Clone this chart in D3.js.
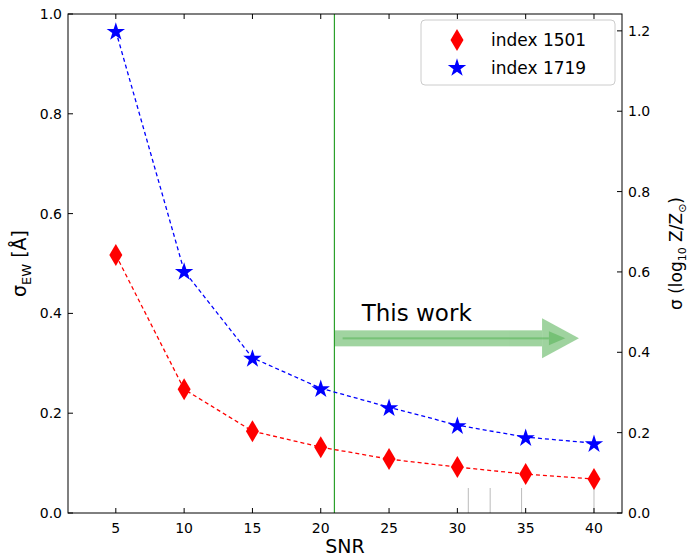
<!DOCTYPE html><html><head><script src="https://cdn.jsdelivr.net/npm/d3@7"></script>
<style>body{margin:0;background:#fff}text{font-family:"DejaVu Sans",sans-serif}</style></head><body>
<svg id="c" width="697" height="557"></svg>
<script>
const snr=[5,10,15,20,25,30,35,40];
const idx1501=[0.517,0.248,0.164,0.132,0.108,0.092,0.078,0.068];
const idx1719=[0.966,0.485,0.311,0.250,0.212,0.176,0.152,0.140];
const xTicks=[5,10,15,20,25,30,35,40];
const yTicks=[0,0.2,0.4,0.6,0.8,1.0];
const y2Ticks=[0,0.2,0.4,0.6,0.8,1.0,1.2];
const greyMarks=[30.8,32.4,34.7,40];
const svg=d3.select("#c");
const L=68,R=622,T=14,B=513;
const x=d3.scaleLinear().domain([1.5,42.05]).range([L,R]);
const y=d3.scaleLinear().domain([0,1]).range([B,T]);
const y2=d3.scaleLinear().domain([0,1.242]).range([B,T]);
svg.selectAll(".gm").data(greyMarks).join("line").attr("x1",d=>x(d)).attr("x2",d=>x(d)).attr("y1",B-25).attr("y2",B).attr("stroke","#bbb").attr("stroke-width",1);
svg.append("line").attr("x1",x(21)).attr("x2",x(21)).attr("y1",T).attr("y2",B).attr("stroke","#2ca02c").attr("stroke-width",1.2);
const ay=y(0.35);
const ag=svg.append("g").attr("opacity",0.45).attr("fill","#2ca02c");
ag.append("rect").attr("x",x(21)).attr("y",ay-8).attr("width",x(36.2)-x(21)).attr("height",16);
ag.append("path").attr("d",`M${x(36.2)},${ay-20}L${x(38.9)},${ay}L${x(36.2)},${ay+20}Z`);
const ag2=svg.append("g").attr("opacity",0.35).attr("fill","#2ca02c");
ag2.append("rect").attr("x",x(21.6)).attr("y",ay-1).attr("width",x(36.7)-x(21.6)).attr("height",2);
ag2.append("path").attr("d",`M${x(36.7)},${ay-7}L${x(37.9)},${ay}L${x(36.7)},${ay+7}Z`);
svg.append("text").attr("x",x(23)).attr("y",y(0.385)).attr("font-size",23).text("This work");
const line=d3.line().x((d,i)=>x(snr[i])).y(d=>y(d));
svg.append("path").attr("d",line(idx1501)).attr("fill","none").attr("stroke","red").attr("stroke-width",1.3).attr("stroke-dasharray","4,3");
svg.append("path").attr("d",line(idx1719)).attr("fill","none").attr("stroke","blue").attr("stroke-width",1.3).attr("stroke-dasharray","4,3");
const diamond="M0,-11L6.5,0L0,11L-6.5,0Z";
const star=d3.symbol().type(d3.symbolStar).size(105)();
svg.selectAll(".r").data(idx1501).join("path").attr("d",diamond).attr("transform",(d,i)=>`translate(${x(snr[i])},${y(d)})`).attr("fill","red");
svg.selectAll(".b").data(idx1719).join("path").attr("d",star).attr("transform",(d,i)=>`translate(${x(snr[i])},${y(d)+1})`).attr("fill","blue");
svg.append("rect").attr("x",L).attr("y",T).attr("width",R-L).attr("height",B-T).attr("fill","none").attr("stroke","#000").attr("stroke-width",1);
const g=svg.append("g");
xTicks.forEach(t=>{g.append("line").attr("x1",x(t)).attr("x2",x(t)).attr("y1",B).attr("y2",B-5).attr("stroke","#000");
 g.append("line").attr("x1",x(t)).attr("x2",x(t)).attr("y1",T).attr("y2",T+5).attr("stroke","#000");
 g.append("text").attr("x",x(t)).attr("y",B+20).attr("text-anchor","middle").attr("font-size",14).text(t);});
yTicks.forEach(t=>{g.append("line").attr("x1",L).attr("x2",L+5).attr("y1",y(t)).attr("y2",y(t)).attr("stroke","#000");
 g.append("text").attr("x",L-6).attr("y",y(t)+5).attr("text-anchor","end").attr("font-size",14).text(t.toFixed(1));});
y2Ticks.forEach(t=>{g.append("line").attr("x1",R).attr("x2",R-5).attr("y1",y2(t)).attr("y2",y2(t)).attr("stroke","#000");
 g.append("text").attr("x",R+6).attr("y",y2(t)+5).attr("font-size",14).text(t.toFixed(1));});
svg.append("text").attr("x",(L+R)/2).attr("y",553).attr("text-anchor","middle").attr("font-size",19).text("SNR");
const yl=svg.append("text").attr("transform",`translate(26,${(T+B)/2}) rotate(-90)`).attr("text-anchor","middle").attr("font-size",19);
yl.append("tspan").text("σ");yl.append("tspan").attr("font-size",13).attr("dy",5).text("EW");yl.append("tspan").attr("dy",-5).text(" [Å]");
const y2l=svg.append("text").attr("transform",`translate(682,${(T+B)/2-10}) rotate(-90)`).attr("text-anchor","middle").attr("font-size",17);
y2l.append("tspan").text("σ (log");y2l.append("tspan").attr("font-size",11).attr("dy",4).text("10");y2l.append("tspan").attr("dy",-4).text(" Z/Z");y2l.append("tspan").attr("font-size",11).attr("dy",4).text("⊙");y2l.append("tspan").attr("dy",-4).text(")");
svg.append("rect").attr("x",421).attr("y",20).attr("width",194).attr("height",65).attr("rx",4).attr("fill","#fff").attr("stroke","#ccc");
svg.append("path").attr("d",diamond).attr("transform","translate(457,40)").attr("fill","red");
svg.append("path").attr("d",star).attr("transform","translate(457,68)").attr("fill","blue");
svg.append("text").attr("x",491).attr("y",46).attr("font-size",17).text("index 1501");
svg.append("text").attr("x",491).attr("y",74).attr("font-size",17).text("index 1719");
</script></body></html>
